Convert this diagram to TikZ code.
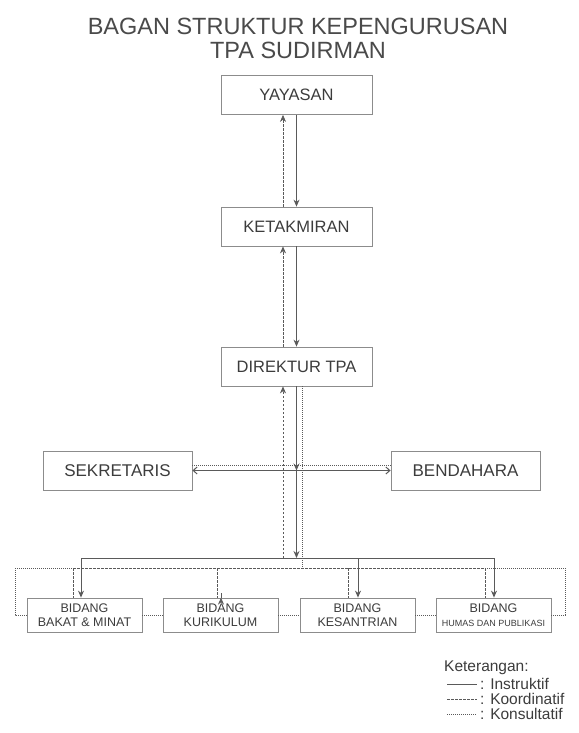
\documentclass[tikz,border=0pt]{standalone}
\usepackage{fontspec}
\setmainfont{Liberation Sans}
\usetikzlibrary{arrows.meta,calc}
\definecolor{linec}{HTML}{5A5A5A}
\definecolor{boxc}{HTML}{8C8C8C}
\definecolor{txtc}{HTML}{3C3C3C}
\definecolor{titc}{HTML}{4A4A4A}
\begin{document}
\begin{tikzpicture}[x=1pt,y=-1pt,
  box/.style={draw=boxc,line width=0.8pt,text=txtc,inner sep=0pt,align=center},
  bigbox/.style={box,minimum width=151pt,minimum height=39pt,font=\fontsize{16.5}{18}\selectfont},
  sidebox/.style={box,minimum width=149pt,minimum height=39pt,font=\fontsize{17}{19}\selectfont},
  bidbox/.style={box,minimum width=115pt,minimum height=34pt,font=\fontsize{12.5}{14}\selectfont},
  instr/.style={draw=linec,line width=1pt},
  koord/.style={draw=linec,line width=0.7pt,dash pattern=on 2.5pt off 1.5pt},
  konsul/.style={draw=linec,line width=0.9pt,dash pattern=on 1pt off 1pt},
  tip/.style={-{Stealth[length=7pt,width=6pt]}},
  both/.style={{Straight Barb[length=4pt,width=7pt]}-{Straight Barb[length=4pt,width=7pt]}},
  legtxt/.style={text=txtc,anchor=west,inner sep=0pt,font=\fontsize{15.5}{17}\selectfont}
]
\useasboundingbox (0,0) rectangle (578,733);

% title
\node[text=titc,font=\fontsize{23.5}{24}\selectfont] (t1) at (298,26) {BAGAN STRUKTUR KEPENGURUSAN};
\node[text=titc,font=\fontsize{23.5}{24}\selectfont] (t2) at (298,50) {TPA SUDIRMAN};

% boxes
\node[bigbox] (yay) at (296.5,95) {YAYASAN};
\node[bigbox] (ket) at (296.5,226.5) {KETAKMIRAN};
\node[bigbox] (dir) at (296.5,366.5) {DIREKTUR TPA};
\node[sidebox] (sek) at (117.5,470.5) {SEKRETARIS};
\node[sidebox] (ben) at (465.5,470.5) {BENDAHARA};
\node[bidbox] (b1) at (84.5,615) {BIDANG\\BAKAT \& MINAT};
\node[bidbox] (b2) at (220.5,615) {BIDANG\\KURIKULUM};
\node[bidbox] (b3) at (357.5,615) {BIDANG\\KESANTRIAN};
\node[bidbox] (b4) at (493.5,615) {BIDANG\\{\fontsize{9}{10}\selectfont HUMAS DAN PUBLIKASI}};

% top vertical links
\draw[instr,tip] (yay.south) -- (ket.north);
\draw[koord,tip] ([xshift=-13.5pt]ket.north) -- ([xshift=-13.5pt]yay.south);
\draw[instr,tip] (ket.south) -- (dir.north);
\draw[koord,tip] ([xshift=-13.5pt]dir.north) -- ([xshift=-13.5pt]ket.south);

% coordinates
\coordinate (cross) at (296.5,470.5);
\coordinate (busS) at (296.5,558);
\coordinate (busK) at (283,558);
\coordinate (busD) at (302.5,568);
\coordinate (sL) at (81,558);
\coordinate (sR) at (494,558);
\coordinate (dL) at (15,568);
\coordinate (dR) at (565,568);
\coordinate (kL) at (73,568);
\coordinate (kR) at (485,568);

% direktur down
\draw[instr,tip] (dir.south) -- (cross);
\draw[instr,tip] (cross) -- (busS);
\draw[koord,tip] (busK) -- ([xshift=-13.5pt]dir.south);
\draw[konsul] ([xshift=6pt]dir.south) -- (busD);

% sekretaris / bendahara
\draw[instr,both] (sek.east) -- (ben.west);
\draw[konsul] ([yshift=5.5pt]sek.east) -- ([yshift=5.5pt]ben.west);

% instruktif bus
\draw[instr] (sL) -- (sR);
\draw[instr,tip] (sL) -- (b1.north -| sL);
\draw[instr,tip] (b2.north -| 221,558) -- (b2.north -| 221,0);
\draw[instr,tip] (358,558) -- (b3.north -| 358,0);
\draw[instr,tip] (sR) -- (b4.north -| sR);

% koordinatif bus
\draw[koord] (kL) -- (kR);
\draw[koord] (kL) -- (b1.north -| kL);
\draw[koord] (217,568) -- (b2.north -| 217,0);
\draw[koord] (348,568) -- (b3.north -| 348,0);
\draw[koord] (kR) -- (b4.north -| kR);

% konsultatif bus
\draw[konsul] (dL) -- (dR);
\draw[konsul] (dL) |- (b1.west);
\draw[konsul] (dR) |- (b4.east);
\draw[konsul] (b1.east) -- (b2.west);
\draw[konsul] (b2.east) -- (b3.west);
\draw[konsul] (b3.east) -- (b4.west);

% legend
\node[legtxt] (leg) at (444,668) {Keterangan:};
\coordinate (l1a) at (447,684); \coordinate (l1b) at (477,684);
\coordinate (l2a) at (447,699); \coordinate (l2b) at (477,699);
\coordinate (l3a) at (447,714); \coordinate (l3b) at (477,714);
\draw[instr] (l1a) -- (l1b);
\draw[koord] (l2a) -- (l2b);
\draw[konsul] (l3a) -- (l3b);
\node[legtxt] (li) at (480,684) {: Instruktif};
\node[legtxt] (lk) at (480,699) {: Koordinatif};
\node[legtxt] (ls) at (480,714) {: Konsultatif};
\end{tikzpicture}
\end{document}
